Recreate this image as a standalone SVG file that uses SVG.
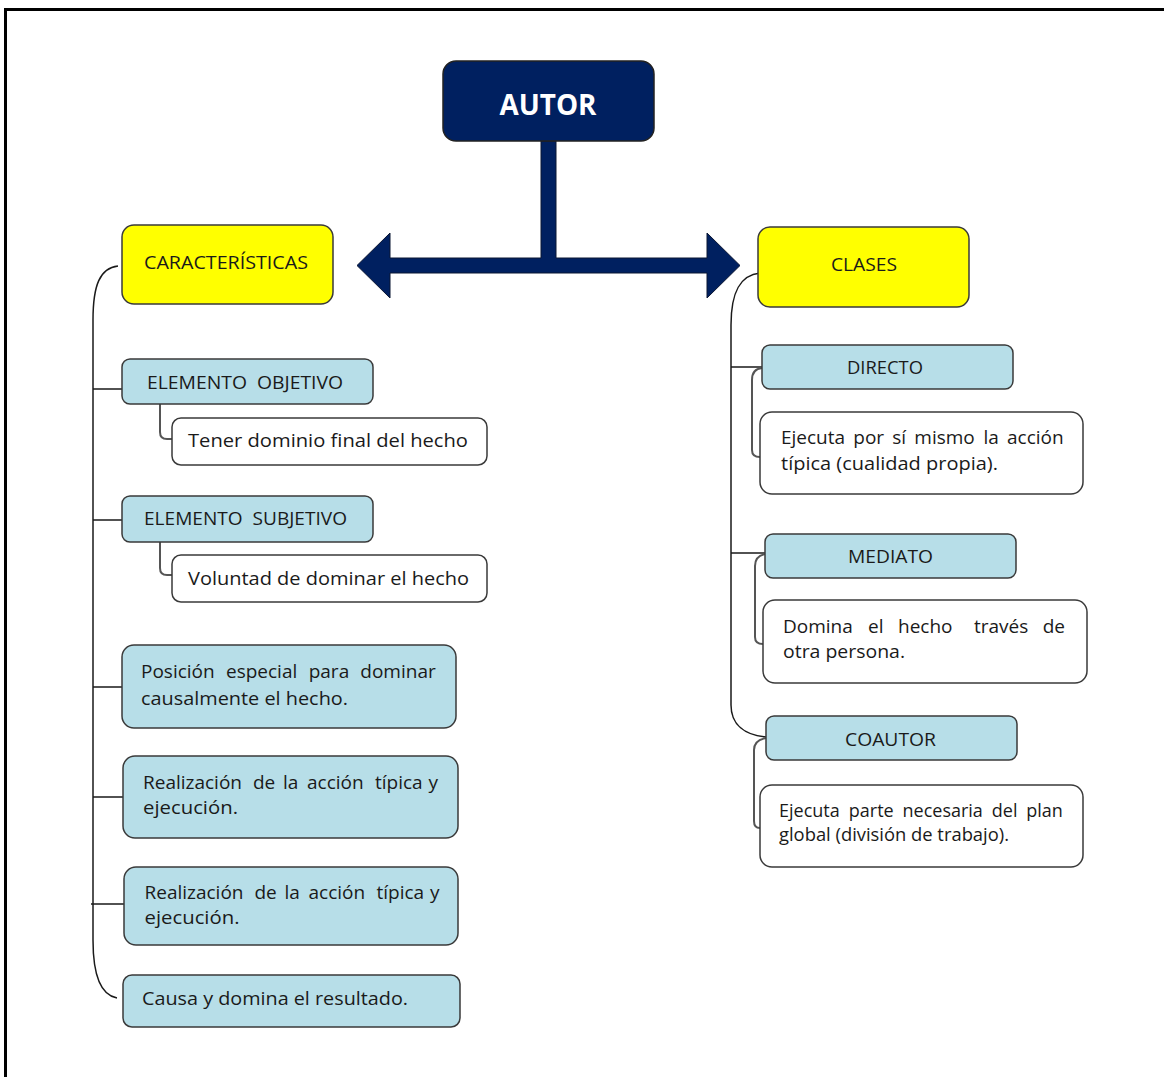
<svg xmlns="http://www.w3.org/2000/svg" width="1164" height="1077" viewBox="0 0 1164 1077">
  <style>
    text { font-family: 'Open Sans', 'Noto Sans', 'Liberation Sans', sans-serif; font-size: 19px; fill: #1a1a1a; }
    .title { font-size: 28px; font-weight: bold; fill: #ffffff; }
    .small { font-size: 18px; }
    .head { fill: #ffff00; stroke: #3a3a3a; stroke-width: 1.5; }
    .item { fill: #b7dee8; stroke: #3a3a3a; stroke-width: 1.5; }
    .note { fill: #ffffff; stroke: #3a3a3a; stroke-width: 1.5; }
    .trunk { fill: none; stroke: #1a1a1a; stroke-width: 1.5; }
    .twig { fill: none; stroke: #555555; stroke-width: 2; }
  </style>

  <!-- page frame -->
  <path d="M5.5,1077 L5.5,9.5 L1164,9.5" fill="none" stroke="#000" stroke-width="3"/>

  <g id="connectors">
    <!-- double-headed arrow from AUTOR -->
    <path d="M541,141 L556,141 L556,258 L707,258 L707,233 L740,265.5 L707,298 L707,273 L390,273 L390,298 L357,265.5 L390,233 L390,258 L541,258 Z" fill="#002060" stroke="#0b1633" stroke-width="1"/>

    <!-- left bracket -->
    <path class="trunk" d="M118,266 C100,268 93,285 93,320 L93,940 C93,975 100,995 117,998"/>
    <path class="trunk" d="M93,389 H122 M93,520 H122 M93,687 H122 M93,797 H123 M91,904 H135"/>
    <path class="twig" d="M160,404 V432 Q160,439 167,439 H172"/>
    <path class="twig" d="M160,542 V568 Q160,575 167,575 H172"/>

    <!-- right bracket -->
    <path class="trunk" d="M760,273 C740,275 731,292 731,325 L731,705 C731,725 745,735 766,737"/>
    <path class="trunk" d="M731,367 H762 M731,553 H765"/>
    <path class="twig" d="M762,368 Q752,369 752,380 V450 Q752,457 760,457"/>
    <path class="twig" d="M765,554 Q755,556 755,566 V637 Q755,644 763,644"/>
    <path class="twig" d="M766,738 Q754,740 754,750 V821 Q754,828 760,828"/>
  </g>

  <g id="autor">
    <rect x="443" y="61" width="211" height="80" rx="13" fill="#002060" stroke="#222" stroke-width="1.5"/>
    <text class="title" x="548" y="115" text-anchor="middle" textLength="97" lengthAdjust="spacingAndGlyphs">AUTOR</text>
  </g>

  <g id="caracteristicas">
    <rect class="head" x="122" y="225" width="211" height="79" rx="12"/>
    <text x="144" y="269" textLength="164" lengthAdjust="spacingAndGlyphs">CARACTERÍSTICAS</text>
  </g>

  <g id="clases">
    <rect class="head" x="758" y="227" width="211" height="80" rx="12"/>
    <text x="831" y="271" textLength="66" lengthAdjust="spacingAndGlyphs">CLASES</text>
  </g>

  <g id="elemento-objetivo">
    <rect class="item" x="122" y="359" width="251" height="45" rx="8"/>
    <text x="147" y="389" textLength="196" lengthAdjust="spacingAndGlyphs" xml:space="preserve">ELEMENTO  OBJETIVO</text>
  </g>

  <g id="dominio-final">
    <rect class="note" x="172" y="418" width="315" height="47" rx="9"/>
    <text x="188" y="447" textLength="280" lengthAdjust="spacingAndGlyphs">Tener dominio final del hecho</text>
  </g>

  <g id="elemento-subjetivo">
    <rect class="item" x="122" y="496" width="251" height="46" rx="8"/>
    <text x="144" y="525" textLength="203" lengthAdjust="spacingAndGlyphs" xml:space="preserve">ELEMENTO  SUBJETIVO</text>
  </g>

  <g id="voluntad">
    <rect class="note" x="172" y="555" width="315" height="47" rx="9"/>
    <text x="188" y="585" textLength="281" lengthAdjust="spacingAndGlyphs">Voluntad de dominar el hecho</text>
  </g>

  <!-- justified lines: one tspan per word -->
  <g id="posicion-especial">
    <rect class="item" x="122" y="645" width="334" height="83" rx="12"/>
    <text y="678"><tspan x="141">Posición</tspan><tspan x="226">especial</tspan><tspan x="308.7">para</tspan><tspan x="360.3">dominar</tspan></text>
    <text x="141" y="705" textLength="207" lengthAdjust="spacingAndGlyphs">causalmente el hecho.</text>
  </g>

  <g id="realizacion-1">
    <rect class="item" x="123" y="756" width="335" height="82" rx="12"/>
    <text y="789"><tspan x="143">Realización</tspan><tspan x="253">de</tspan><tspan x="283">la</tspan><tspan x="307">acción</tspan><tspan x="375">típica</tspan><tspan x="428.5">y</tspan></text>
    <text x="143" y="814" textLength="95" lengthAdjust="spacingAndGlyphs">ejecución.</text>
  </g>

  <g id="realizacion-2">
    <rect class="item" x="124" y="867" width="334" height="78" rx="12"/>
    <text y="899"><tspan x="144.5">Realización</tspan><tspan x="254.5">de</tspan><tspan x="284.5">la</tspan><tspan x="308.5">acción</tspan><tspan x="376.5">típica</tspan><tspan x="430">y</tspan></text>
    <text x="144.5" y="924" textLength="95" lengthAdjust="spacingAndGlyphs">ejecución.</text>
  </g>

  <g id="causa">
    <rect class="item" x="123" y="975" width="337" height="52" rx="9"/>
    <text x="142" y="1005" textLength="266" lengthAdjust="spacingAndGlyphs">Causa y domina el resultado.</text>
  </g>

  <g id="directo">
    <rect class="item" x="762" y="345" width="251" height="44" rx="8"/>
    <text x="847" y="374" textLength="76" lengthAdjust="spacingAndGlyphs">DIRECTO</text>
  </g>

  <g id="directo-nota">
    <rect class="note" x="760" y="412" width="323" height="82" rx="12"/>
    <text y="444"><tspan x="781">Ejecuta</tspan><tspan x="853.3">por</tspan><tspan x="892.2">sí</tspan><tspan x="914.3">mismo</tspan><tspan x="983.4">la</tspan><tspan x="1007">acción</tspan></text>
    <text x="781" y="470" textLength="217" lengthAdjust="spacingAndGlyphs">típica (cualidad propia).</text>
  </g>

  <g id="mediato">
    <rect class="item" x="765" y="534" width="251" height="44" rx="8"/>
    <text x="848" y="563" textLength="85" lengthAdjust="spacingAndGlyphs">MEDIATO</text>
  </g>

  <g id="mediato-nota">
    <rect class="note" x="763" y="600" width="324" height="83" rx="12"/>
    <text y="633"><tspan x="783">Domina</tspan><tspan x="868">el</tspan><tspan x="898">hecho</tspan><tspan x="974">través</tspan><tspan x="1042.7">de</tspan></text>
    <text x="783" y="658" textLength="122" lengthAdjust="spacingAndGlyphs">otra persona.</text>
  </g>

  <g id="coautor">
    <rect class="item" x="766" y="716" width="251" height="44" rx="8"/>
    <text x="845" y="746" textLength="91" lengthAdjust="spacingAndGlyphs">COAUTOR</text>
  </g>

  <g id="coautor-nota">
    <rect class="note" x="760" y="785" width="323" height="82" rx="12"/>
    <text class="small" y="817"><tspan x="779">Ejecuta</tspan><tspan x="848.8">parte</tspan><tspan x="902.5">necesaria</tspan><tspan x="991.8">del</tspan><tspan x="1026.3">plan</tspan></text>
    <text class="small" x="779" y="841" textLength="230" lengthAdjust="spacingAndGlyphs">global (división de trabajo).</text>
  </g>
</svg>
